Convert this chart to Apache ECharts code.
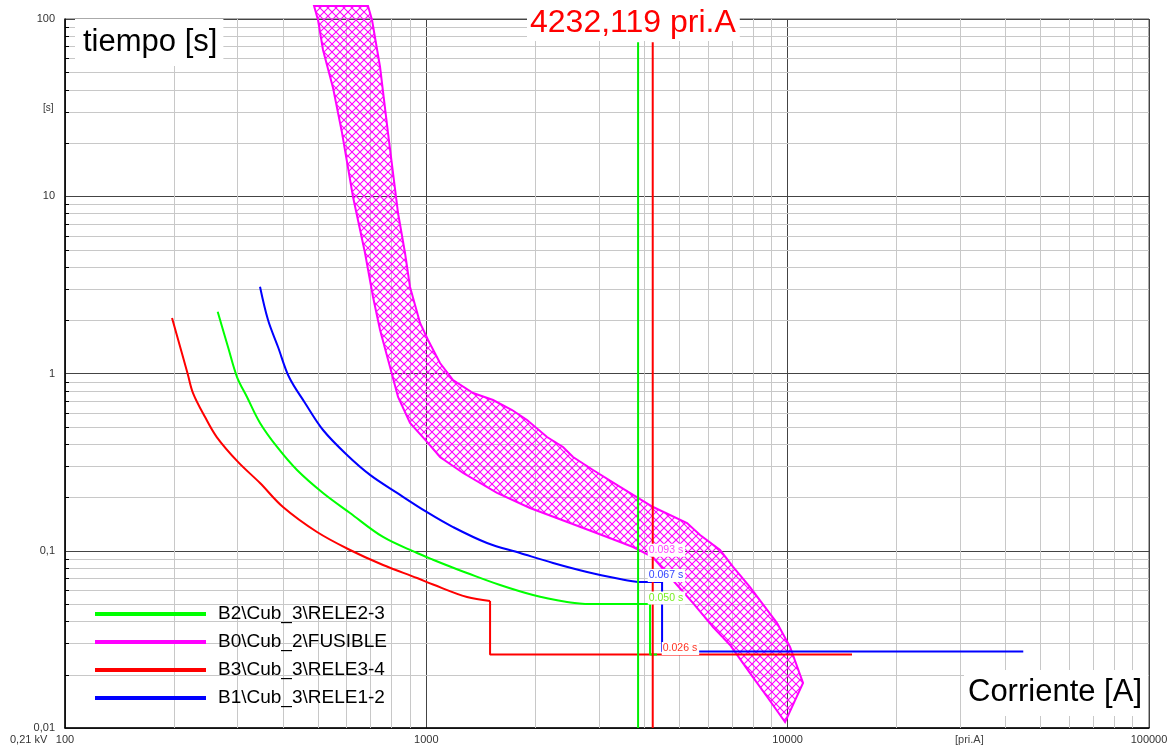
<!DOCTYPE html>
<html><head><meta charset="utf-8">
<script src="https://cdn.jsdelivr.net/npm/echarts@6/dist/echarts.min.js"></script>
<style>html,body{margin:0;padding:0;background:#fff}#c{width:1172px;height:749px}</style>
</head><body><div id="c"></div>
<script>
// ---------- axis ticks ----------
const xMinorTicks = [200,300,400,500,600,700,800,900,2000,3000,4000,5000,6000,7000,8000,9000,20000,30000,40000,50000,60000,70000,80000,90000];
const yMinorTicks = [0.02,0.03,0.04,0.05,0.06,0.07,0.08,0.09,0.2,0.3,0.4,0.5,0.6,0.7,0.8,0.9,2,3,4,5,6,7,8,9,20,30,40,50,60,70,80,90];

// ---------- series names ----------
const nameRele23 = 'B2\\Cub_3\\RELE2-3';
const nameFuse   = 'B0\\Cub_2\\FUSIBLE';
const nameRele34 = 'B3\\Cub_3\\RELE3-4';
const nameRele12 = 'B1\\Cub_3\\RELE1-2';

// ---------- relay curves [current A, time s] ----------
// inverse-time part
const rele34Curve = [[197.8,2.056],[218.6,0.994],[226.1,0.776],[244.1,0.568],[263,0.438],[301.1,0.317],[346.5,0.241],[401.2,0.1765],[498.3,0.1276],[615,0.101],[759,0.0831],[942.6,0.0702],[1043.6,0.0645],[1296,0.0548],[1501,0.0521]];
const rele23Curve = [[264.6,2.232],[282.6,1.411],[299.3,0.955],[318.9,0.737],[346.5,0.526],[386.3,0.385],[438.6,0.2855],[517.7,0.2118],[615,0.1633],[759,0.1196],[942.6,0.0971],[1043.6,0.089],[1163,0.0815],[1296,0.0749],[1600,0.0641],[1974,0.0563],[2451,0.0514],[2749,0.050]];
const rele12Curve = [[346.5,3.088],[364.7,2.004],[388.7,1.411],[416.9,0.955],[461.6,0.682],[517.7,0.48],[603.3,0.347],[698.5,0.268],[829.8,0.212],[1004.5,0.165],[1185.5,0.136],[1472,0.1106],[1817,0.0971],[2242,0.0853],[2785,0.0759],[3437,0.0693],[3854,0.0666]];
// definite-time / instantaneous part
const rele34Steps = [[1501,0.0521],[1501,0.026],[15070,0.026]];
const rele23Steps = [[2749,0.050],[4160,0.050],[4160,0.026],[4350,0.026]];
const rele12Steps = [[3854,0.0666],[4492,0.0666],[4492,0.027],[44880,0.027]];

// fuse band: minimum melting (left/lower) and total clearing (right/upper)
const fuseMinMelt = [[489,118.4],[501.5,98.7],[517.7,66.9],[551.9,40.8],[584.5,22.7],[626.8,9.9],[676.6,4.785],[712,2.702],[744.6,1.76],[793.4,1.088],[835,0.737],[901.3,0.526],[1004.5,0.411],[1091,0.338],[1264,0.2746],[1569,0.2118],[1936,0.1743],[2498,0.1434],[3163,0.1196],[3734,0.105],[4232,0.092],[4942,0.0641],[5473,0.0507],[6217,0.0371],[6928,0.0294],[7867,0.0204],[8770,0.015],[9836,0.0108]];
const fuseCorner = [11030,0.01794];
const fuseTotalClear = [[10153,0.02864],[9346,0.0391],[7867,0.0624],[7062,0.081],[6501,0.101],[5722,0.1227],[5267,0.1434],[4242,0.1765],[3437,0.229],[2893,0.2855],[2547,0.338],[2389,0.3848],[2158,0.4383],[1900,0.5466],[1727,0.6223],[1530,0.7087],[1347,0.776],[1185.5,0.919],[1091,1.146],[1011,1.545],[960.7,1.927],[901.3,3.076],[873,4.785],[835,8.044],[824.5,9.9],[783.4,22.7],[744.6,53.6],[707.5,98.7],[689.6,118.4]];

// ---------- cursors ----------
const cursorGreen = 3855;
const cursorRed = 4232.119;
const cursorTop = 74;
const cursorTitle = '4232,119 pri.A';
const readTexts  = ['0.093 s','0.067 s','0.050 s','0.026 s'];
const readValues = [0.093, 0.067, 0.050, 0.026];
const readColors = ['#ff44ff','#3344ff','#77ee22','#ff3322'];

const FONT = 'Liberation Sans, Arial, sans-serif';

// hatch pattern
const hc = document.createElement('canvas'); hc.width = 8; hc.height = 8;
const g = hc.getContext('2d');
g.strokeStyle = '#ff00ff'; g.lineWidth = 1.1;
g.beginPath(); g.moveTo(0,0); g.lineTo(8,8); g.moveTo(8,0); g.lineTo(0,8); g.stroke();
const hatch = {image: hc, repeat: 'repeat'};

const chart = echarts.init(document.getElementById('c'), null, {renderer:'canvas'});
const fmt = v => String(v).replace('.', ',');

function relay(name, data, color, smooth) {
  return { type:'line', name:name, z:4, data:data, showSymbol:false, symbol:'none', smooth:smooth,
           lineStyle:{color:color, width:2}, itemStyle:{color:color}, silent:true };
}

const option = {
  animation: false,
  backgroundColor: '#fff',
  grid: {left:65, right:23, top:19, bottom:21, show:true, borderColor:'#555', borderWidth:1, backgroundColor:'transparent'},
  xAxis: {
    type:'log', logBase:10, min:100, max:100000,
    axisLine:{show:true, onZero:false, lineStyle:{color:'#000', width:1.5}},
    axisTick:{show:false},
    axisLabel:{color:'#333', fontSize:11, fontFamily:FONT, margin:6, formatter:fmt, showMinLabel:true, showMaxLabel:true},
    splitLine:{show:true, lineStyle:{color:'#444', width:1}}
  },
  yAxis: {
    type:'log', logBase:10, min:0.01, max:100,
    axisLine:{show:true, onZero:false, lineStyle:{color:'#000', width:1.5}},
    axisTick:{show:false},
    axisLabel:{color:'#333', fontSize:11, fontFamily:FONT, margin:10, formatter:fmt, showMinLabel:true, showMaxLabel:true},
    splitLine:{show:true, lineStyle:{color:'#444', width:1}}
  },
  legend: {
    orient:'vertical', left:90, top:599, itemWidth:111, itemHeight:4, itemGap:8, icon:'rect',
    selectedMode:false,
    textStyle:{fontSize:19, fontFamily:FONT, color:'#000', lineHeight:20, padding:[0,0,0,7]},
    data:[
      {name:nameRele23, itemStyle:{color:'#00ff00'}},
      {name:nameFuse, itemStyle:{color:'#ff00ff'}},
      {name:nameRele34, itemStyle:{color:'#ff0000'}},
      {name:nameRele12, itemStyle:{color:'#0000ff'}}
    ]
  },
  graphic: [
    {type:'text', z:100, left:75, top:19, style:{text:'tiempo [s]', font:'31px '+FONT, fill:'#000', backgroundColor:'#fff', padding:[8,6,8,8]}},
    {type:'text', z:100, right:24, top:670, style:{text:'Corriente [A]', font:'31px '+FONT, fill:'#000', backgroundColor:'#fff', padding:[7,6,8,4]}},
    {type:'text', z:100, left:527, top:5, style:{text:cursorTitle, font:'32px '+FONT, fill:'#ff0000', backgroundColor:'#fff', padding:[2,4,2,3]}},
    {type:'text', z:100, left:43, top:103, style:{text:'[s]', font:'10px '+FONT, fill:'#333'}},
    {type:'text', z:100, left:10, top:734, style:{text:'0,21 kV', font:'11px '+FONT, fill:'#333'}},
    {type:'text', z:100, left:955, top:734, style:{text:'[pri.A]', font:'11px '+FONT, fill:'#444'}}
  ],
  series: [
    { type:'custom', name:'minorX', z:1, silent:true, clip:true,
      data: xMinorTicks.map(v => [v, 1]),
      renderItem: (params, api) => {
        const cs = params.coordSys;
        const x = Math.round(api.coord([api.value(0), 1])[0]) + 0.5;
        return {type:'line', shape:{x1:x, y1:cs.y, x2:x, y2:cs.y+cs.height}, style:{stroke:'#c8c8c8', lineWidth:1}};
      }
    },
    { type:'custom', name:'minorY', z:1, silent:true, clip:true,
      data: yMinorTicks.map(v => [1000, v]),
      renderItem: (params, api) => {
        const cs = params.coordSys;
        const y = Math.round(api.coord([1000, api.value(1)])[1]) + 0.5;
        return {type:'group', children:[
          {type:'line', shape:{x1:cs.x, y1:y, x2:cs.x+cs.width, y2:y}, style:{stroke:'#c8c8c8', lineWidth:1}},
          {type:'line', shape:{x1:cs.x, y1:y, x2:cs.x+4, y2:y}, style:{stroke:'#000', lineWidth:1}}
        ]};
      }
    },
    { type:'custom', name:nameFuse, z:3, silent:true, clip:false,
      itemStyle:{color:'#ff00ff'},
      data: [[1000, 1]],
      renderItem: (params, api) => {
        const poly = fuseMinMelt.concat([fuseCorner], fuseTotalClear);
        const pts = poly.map(p => api.coord(p));
        return {type:'polygon', shape:{points:pts}, style:{fill:hatch, stroke:'#ff00ff', lineWidth:2}};
      }
    },
    relay(nameRele34, rele34Curve, '#ff0000', 0.35),
    relay(nameRele34, rele34Steps, '#ff0000', false),
    relay(nameRele23, rele23Curve, '#00ff00', 0.35),
    relay(nameRele23, rele23Steps, '#00ff00', false),
    relay(nameRele12, rele12Curve, '#0000ff', 0.35),
    relay(nameRele12, rele12Steps, '#0000ff', false),
    { type:'line', name:'cursorGreen', z:5, data:[[cursorGreen,0.01],[cursorGreen,cursorTop]], symbol:'none', lineStyle:{color:'#00ee00', width:2}, silent:true },
    { type:'line', name:'cursorRed', z:5, data:[[cursorRed,0.01],[cursorRed,cursorTop]], symbol:'none', lineStyle:{color:'#ff0000', width:2}, silent:true },
    { type:'custom', name:'readouts', z:6, silent:true, clip:false,
      data: readValues.map(v => [cursorRed, v]),
      renderItem: (params, api) => {
        const i = params.dataIndex;
        const p = api.coord([api.value(0), api.value(1)]);
        const dx = i === 3 ? 9 : -5;
        return {type:'text', x:p[0]+dx, y:p[1]-6, style:{text:readTexts[i], fill:readColors[i], font:'10.5px '+FONT, backgroundColor:'#fff', padding:[1,2,1,1], align:'left', verticalAlign:'middle'}};
      }
    }
  ]
};
chart.setOption(option);
</script></body></html>
